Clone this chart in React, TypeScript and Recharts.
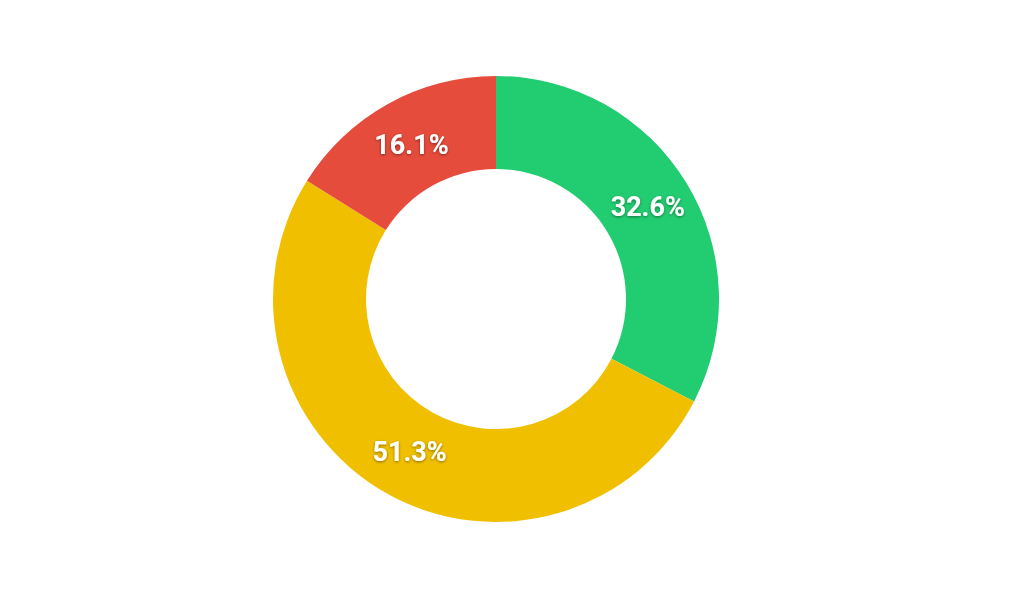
import React from "react";
import { PieChart, Pie, Cell } from "recharts";

const categories = ["Green", "Yellow", "Red"];
const values = [32.6, 51.3, 16.1];
const colors = ["#22cd71", "#f0c000", "#e64c3c"];

const data = categories.map((name, i) => ({ name, value: values[i] }));

const RADIAN = Math.PI / 180;

const renderLabel = (props: any) => {
  const { cx, cy, midAngle, innerRadius, outerRadius, value } = props;
  const r = (innerRadius + outerRadius) / 2;
  const x = cx + r * Math.cos(-midAngle * RADIAN);
  const y = cy + r * Math.sin(-midAngle * RADIAN);
  return (
    <text
      x={x + 1}
      y={y}
      fill="#ffffff"
      textAnchor="middle"
      dominantBaseline="central"
      fontFamily="Roboto, 'Noto Sans', sans-serif"
      fontWeight={700}
      fontSize={27}
      filter="url(#lblShadow)"
    >
      {`${Number(value).toFixed(1)}%`}
    </text>
  );
};

export default function App() {
  return (
    <div style={{ width: 1008, height: 587, background: "#ffffff" }}>
      <svg width={0} height={0} style={{ position: "absolute" }}>
        <defs>
          <filter id="lblShadow" x="-20%" y="-40%" width="140%" height="180%">
            <feDropShadow dx="0" dy="1" stdDeviation="1.6" floodColor="#000000" floodOpacity="0.45" />
          </filter>
        </defs>
      </svg>
      <PieChart width={1008} height={587} margin={{ top: 0, right: 0, bottom: 0, left: 0 }}>
        <Pie
          data={data}
          dataKey="value"
          nameKey="name"
          cx={488}
          cy={291}
          innerRadius={130}
          outerRadius={223}
          startAngle={90}
          endAngle={-270}
          stroke="none"
          label={renderLabel}
          labelLine={false}
          isAnimationActive={false}
        >
          {data.map((d, i) => (
            <Cell key={d.name} fill={colors[i]} />
          ))}
        </Pie>
      </PieChart>
    </div>
  );
}
